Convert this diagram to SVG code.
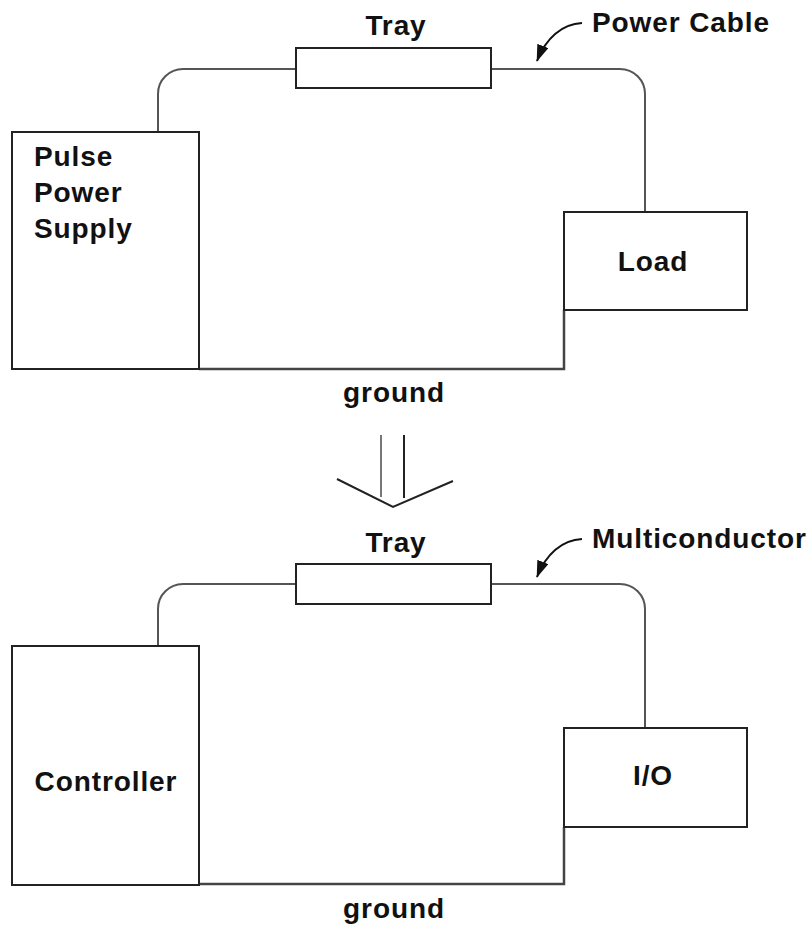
<svg xmlns="http://www.w3.org/2000/svg" width="811" height="926" viewBox="0 0 811 926">
<defs>
<style>
.box{fill:#fff;stroke:#222;stroke-width:2}
.cable{fill:none;stroke:#555;stroke-width:2}
.gnd{fill:none;stroke:#444;stroke-width:2.5}
.ptr{fill:none;stroke:#111;stroke-width:2}
text{font-family:"Liberation Sans",Arial,Helvetica,sans-serif;font-weight:bold;font-size:28px;letter-spacing:0.9px;fill:#111}
.c{text-anchor:middle}
</style>
<marker id="ah2" viewBox="0 0 20 14" refX="19" refY="7" markerWidth="17" markerHeight="12" markerUnits="userSpaceOnUse" orient="auto">
<path d="M0,0 L20,7 L0,14 Z" fill="#111"/>
</marker>
</defs>
<rect width="811" height="926" fill="#fff"/>

<g id="connectors">
<path class="cable" d="M158,132 V94 A25,25 0 0 1 183,69 H296 M491,69 H620 A25,25 0 0 1 645,94 V212"/>
<path class="gnd" d="M199,369 H564 V310"/>
<path class="ptr" d="M582,23 C562,24 546,38 537,61" marker-end="url(#ah2)"/>
<path class="cable" d="M158,646 V609 A25,25 0 0 1 183,584 H296 M491,584 H620 A25,25 0 0 1 645,609 V728"/>
<path class="gnd" d="M199,884 H564 V827"/>
<path class="ptr" d="M582,539 C562,540 546,554 537,577" marker-end="url(#ah2)"/>
</g>

<g id="transition">
<line x1="381" y1="435" x2="381" y2="497" stroke="#777" stroke-width="2"/>
<line x1="404" y1="435" x2="404" y2="498" stroke="#222" stroke-width="2"/>
<polyline points="337,479 393,507 453,481" fill="none" stroke="#222" stroke-width="2"/>
</g>

<g id="tray1"><rect class="box" x="296" y="48" width="195" height="40"/><text class="c" x="396" y="35">Tray</text></g>
<g id="powercable-label"><text x="592" y="32">Power Cable</text></g>
<g id="pps"><rect class="box" x="12" y="132" width="187" height="237"/>
<text x="34" y="166">Pulse</text><text x="34" y="202">Power</text><text x="34" y="238">Supply</text></g>
<g id="load"><rect class="box" x="564" y="212" width="183" height="98"/><text class="c" x="653" y="271">Load</text></g>
<g id="ground1"><text class="c" x="394" y="402">ground</text></g>

<g id="tray2"><rect class="box" x="296" y="564" width="195" height="40"/><text class="c" x="396" y="552">Tray</text></g>
<g id="multi-label"><text x="592" y="548">Multiconductor</text></g>
<g id="controller"><rect class="box" x="12" y="646" width="187" height="239"/><text class="c" x="106" y="791">Controller</text></g>
<g id="io"><rect class="box" x="564" y="728" width="183" height="99"/><text class="c" x="653" y="785">I/O</text></g>
<g id="ground2"><text class="c" x="394" y="918">ground</text></g>
</svg>
